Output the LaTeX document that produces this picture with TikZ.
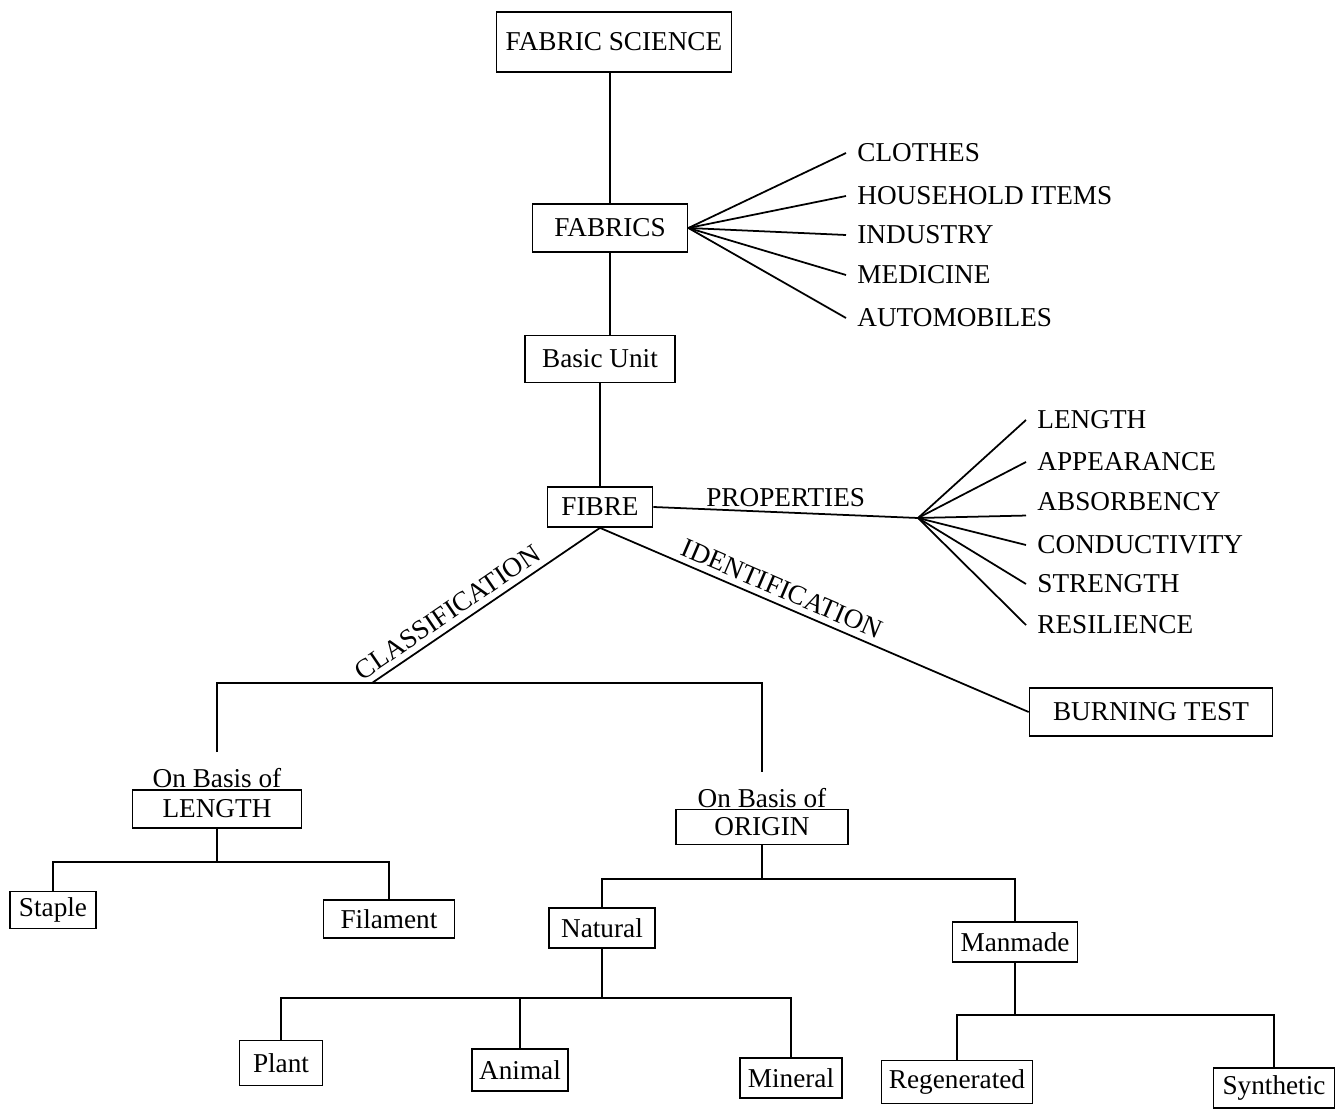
\documentclass[tikz,border=0pt]{standalone}
\usepackage{fontspec}
\setmainfont{Liberation Serif}
\usepackage{tikz}
\usetikzlibrary{positioning}
\tikzset{
  box/.style={draw, line width=1pt, inner xsep=4pt, inner ysep=2pt, minimum height=0.8cm},
  item/.style={anchor=west, inner xsep=6pt, inner ysep=2pt},
  head/.style={inner xsep=1pt, inner ysep=9pt},
}

\begin{document}
\begin{tikzpicture}[x=0.02cm, y=-0.02cm, line width=1pt, every node/.style={font=\fontsize{15.5}{18}\selectfont}]
\useasboundingbox (0,0) rectangle (1340,1114);
% main column
\node[box, minimum width=4.7cm, minimum height=1.2cm] (sci) at (614,42) {FABRIC SCIENCE};
\node[box, minimum width=3.1cm, minimum height=0.96cm] (fab) at (610,228) {FABRICS};
\node[box, minimum width=3.0cm, minimum height=0.94cm] (unit) at (600,359) {Basic Unit};
\node[box, minimum width=2.1cm] (fib) at (600,507) {FIBRE};
\draw (fab.north |- sci.south) -- (fab.north);
\draw (fab.south) -- (fab.south |- unit.north);
\draw (unit.south) -- (fib.north);
% uses of fabrics
\node[item] (clo) at (846,153) {CLOTHES};
\node[item] (hou) at (846,196) {HOUSEHOLD ITEMS};
\node[item] (ind) at (846,235) {INDUSTRY};
\node[item] (med) at (846,275) {MEDICINE};
\node[item] (aut) at (846,318) {AUTOMOBILES};
\foreach \n in {clo,hou,ind,med,aut}
  \draw (fab.east) -- (\n.west);
% properties
\coordinate (pp) at (918,518);
\draw (fib.east) -- node[above, inner sep=3pt] {PROPERTIES} (pp);
\node[item] (plen) at (1026,420) {LENGTH};
\node[item] (papp) at (1026,462) {APPEARANCE};
\node[item] (pabs) at (1026,502) {ABSORBENCY};
\node[item] (pcon) at (1026,545) {CONDUCTIVITY};
\node[item] (pstr) at (1026,584) {STRENGTH};
\node[item] (pres) at (1026,625) {RESILIENCE};
\foreach \n in {plen,papp,pcon,pstr,pres}
  \draw (pp) -- (\n.west);
\draw (pp) -- (pabs.south west);
% identification
\node[box, minimum width=4.86cm, minimum height=0.96cm] (burn) at (1151,712) {BURNING TEST};
\draw (fib.south) -- node[sloped, above, pos=0.41] {IDENTIFICATION} (burn.west);
% classification
\coordinate (cls) at (372,683);
\draw (cls) -- node[sloped, above, pos=0.37] {CLASSIFICATION} (fib.south);
\node[box, minimum width=3.38cm, minimum height=0.76cm] (len) at (217,809) {LENGTH};
\node[head, above=-9pt of len] (lenhd) {On Basis of};
\node[box, minimum width=3.44cm, minimum height=0.7cm] (ori) at (762,827) {ORIGIN};
\node[head, above=-9pt of ori] (orihd) {On Basis of};
\draw (lenhd.north) |- (cls) -| (orihd.north);
% by length
\coordinate (lenj) at (217,862);
\node[box, minimum width=1.72cm, minimum height=0.74cm] (sta) at (53,910) {Staple};
\node[box, minimum width=2.62cm, minimum height=0.76cm] (fil) at (389,919) {Filament};
\draw (len.south) -- (lenj);
\draw (sta.north) |- (lenj) -| (fil.north);
% by origin
\coordinate (orij) at (762,879);
\node[box, minimum width=2.12cm] (nat) at (602,928) {Natural};
\node[box, minimum width=2.5cm] (man) at (1015,942) {Manmade};
\draw (ori.south) -- (orij);
\draw (nat.north) |- (orij) -| (man.north);
% natural
\coordinate (natj) at (602,998);
\node[box, minimum width=1.66cm, minimum height=0.9cm] (pla) at (281,1063) {Plant};
\node[box, minimum width=1.84cm, minimum height=0.84cm] (ani) at (520,1070) {Animal};
\node[box, minimum width=2.04cm] (mine) at (791,1078) {Mineral};
\draw (nat.south) -- (natj);
\draw (pla.north) |- (natj) -| (mine.north);
\draw (ani.north) -- (ani.north |- natj);
% manmade
\coordinate (manj) at (1015,1015);
\node[box, minimum width=3.02cm, minimum height=0.86cm] (reg) at (957,1082) {Regenerated};
\node[box, minimum width=2.42cm] (syn) at (1274,1088) {Synthetic};
\draw (man.south) -- (manj);
\draw (reg.north) |- (manj) -| (syn.north);
\end{tikzpicture}
\end{document}
